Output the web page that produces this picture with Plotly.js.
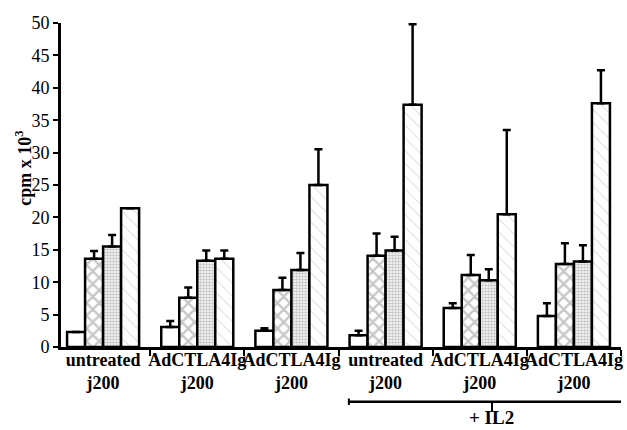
<!DOCTYPE html>
<html>
<head>
<meta charset="utf-8">
<script src="https://cdn.plot.ly/plotly-3.0.1.min.js"></script>
<style>html,body{margin:0;padding:0;background:#fff;}#chart{width:627px;height:430px;}</style>
</head>
<body>
<div id="chart"></div>
<script>
// Group keys (unique) and their displayed two-line labels
const groupKeys = ['g1', 'g2', 'g3', 'g4', 'g5', 'g6'];
const groupLabels = ['untreated<br>j200', 'AdCTLA4Ig<br>j200', 'AdCTLA4Ig<br>j200',
                     'untreated<br>j200', 'AdCTLA4Ig<br>j200', 'AdCTLA4Ig<br>j200'];

// Series values (cpm x 10^3) and upward error bars
const s1 = [2.3, 3.1, 2.5, 1.8, 6.0, 4.8];
const e1 = [0, 0.9, 0.4, 0.7, 0.75, 1.95];
const s2 = [13.6, 7.6, 8.8, 14.1, 11.1, 12.8];
const e2 = [1.2, 1.6, 1.9, 3.4, 3.1, 3.2];
const s3 = [15.5, 13.3, 11.9, 14.9, 10.3, 13.2];
const e3 = [1.8, 1.6, 2.6, 2.1, 1.7, 2.5];
const s4 = [21.4, 13.6, 25.0, 37.4, 20.5, 37.6];
const e4 = [0, 1.3, 5.5, 12.4, 13.0, 5.1];

const yTicks = [0, 5, 10, 15, 20, 25, 30, 35, 40, 45, 50];

const zeros = groupKeys.map(() => 0);
function bar(vals, errs, pattern) {
  return {
    type: 'bar', x: groupKeys, y: vals,
    marker: { color: '#ffffff', line: { color: '#000', width: 2.5 }, pattern: pattern },
    error_y: { type: 'data', symmetric: false, array: errs, arrayminus: zeros,
               color: '#000', thickness: 2.5, width: 4 },
    hoverinfo: 'skip', showlegend: false
  };
}

const data = [
  bar(s1, e1, { shape: '' }),
  bar(s2, e2, { shape: 'x', fgcolor: '#8f8f8f', bgcolor: '#ffffff', size: 9, solidity: 0.45, fillmode: 'overlay' }),
  bar(s3, e3, { shape: '.', fgcolor: '#8a8a8a', bgcolor: '#ffffff', size: 3, solidity: 0.6, fillmode: 'overlay' }),
  bar(s4, e4, { shape: '\\', fgcolor: '#9a9a9a', bgcolor: '#ffffff', size: 9, solidity: 0.1, fillmode: 'overlay' })
];

const serif = 'Liberation Serif, Times New Roman, serif';
const layout = {
  width: 627, height: 430,
  margin: { l: 61, r: 6, t: 23, b: 83 },
  paper_bgcolor: '#fff', plot_bgcolor: '#fff',
  barmode: 'group', bargap: 0.235, bargroupgap: 0,
  font: { family: serif, color: '#000' },
  xaxis: {
    type: 'category', range: [-0.447, 5.5], tickangle: 0,
    tickmode: 'array', tickvals: groupKeys, ticktext: groupLabels,
    tickson: 'boundaries', ticks: 'outside', ticklen: 6, tickwidth: 2, tickcolor: '#000',
    ticklabelstandoff: -6,
    showline: true, linecolor: '#000', linewidth: 3, showgrid: false, zeroline: false,
    tickfont: { family: serif, size: 18, color: '#000', weight: 'bold' }
  },
  yaxis: {
    range: [0, 50], tickmode: 'array', tickvals: yTicks,
    ticks: 'outside', ticklen: 5, tickwidth: 2, tickcolor: '#000',
    showline: true, linecolor: '#000', linewidth: 3, showgrid: false, zeroline: false,
    tickfont: { family: serif, size: 18, color: '#000' }
  },
  annotations: [
    { text: '<b>cpm x 10<sup>3</sup></b>', textangle: -90, xref: 'paper', yref: 'paper',
      x: -0.066, y: 0.55, xanchor: 'center', yanchor: 'middle', showarrow: false,
      font: { family: serif, size: 18, color: '#000' } },
    { text: '<b>+ IL2</b>', xref: 'x', yref: 'paper', x: 4.13, y: -0.256,
      xanchor: 'center', yanchor: 'bottom', showarrow: false,
      font: { family: serif, size: 19, color: '#000' } }
  ],
  shapes: [
    { type: 'line', xref: 'x', yref: 'paper', x0: 2.61, x1: 5.53, y0: -0.169, y1: -0.169,
      line: { color: '#000', width: 2.5 } },
    { type: 'line', xref: 'x', yref: 'paper', x0: 2.61, x1: 2.61, y0: -0.159, y1: -0.179,
      line: { color: '#000', width: 2 } },
    { type: 'line', xref: 'x', yref: 'paper', x0: 5.53, x1: 5.53, y0: -0.159, y1: -0.179,
      line: { color: '#000', width: 2 } },
    { type: 'line', xref: 'x', yref: 'paper', x0: 4.13, x1: 4.13, y0: -0.169, y1: -0.2,
      line: { color: '#000', width: 2 } }
  ]
};

Plotly.newPlot('chart', data, layout, { displayModeBar: false, staticPlot: true });
</script>
</body>
</html>
